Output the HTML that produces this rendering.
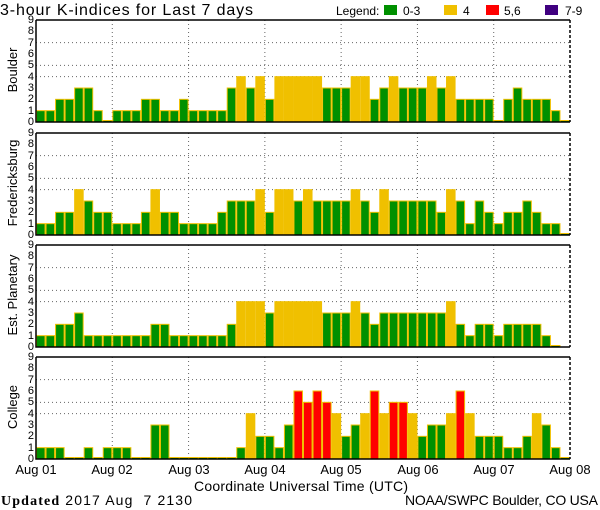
<!DOCTYPE html>
<html><head><meta charset="utf-8"><style>
body{margin:0;background:#fff;width:600px;height:510px;overflow:hidden}
svg{display:block;font-family:"Liberation Sans",sans-serif}
.yl{font-size:11px;text-anchor:end}
</style></head><body>
<svg id="s" width="600" height="510" xmlns="http://www.w3.org/2000/svg">
<text x="0" y="15" font-size="16" textLength="253" lengthAdjust="spacing">3-hour K-indices for Last 7 days</text>
<text x="336" y="15" font-size="12">Legend:</text>
<rect x="384" y="5" width="13" height="10" fill="#009000"/><text x="403" y="15" font-size="12">0-3</text>
<rect x="444" y="5" width="13" height="10" fill="#f0c000"/><text x="463" y="15" font-size="12">4</text>
<rect x="486" y="5" width="13" height="10" fill="#ff0000"/><text x="504" y="15" font-size="12">5,6</text>
<rect x="545" y="5" width="13" height="10" fill="#400080"/><text x="565" y="15" font-size="12">7-9</text>
<g font-size="13">
<text transform="translate(17,70) rotate(-90)" text-anchor="middle">Boulder</text>
<text transform="translate(17,183) rotate(-90)" text-anchor="middle">Fredericksburg</text>
<text transform="translate(17,295) rotate(-90)" text-anchor="middle">Est. Planetary</text>
<text transform="translate(17,407) rotate(-90)" text-anchor="middle">College</text>
</g>
<g class="yl">
<text x="34" y="125">0</text><text x="34" y="114">1</text><text x="34" y="102">2</text><text x="34" y="91">3</text><text x="34" y="80">4</text><text x="34" y="68">5</text><text x="34" y="57">6</text><text x="34" y="46">7</text><text x="34" y="34">8</text><text x="34" y="23">9</text>
</g>
<g class="yl" transform="translate(0,113)">
<text x="34" y="125">0</text><text x="34" y="114">1</text><text x="34" y="102">2</text><text x="34" y="91">3</text><text x="34" y="80">4</text><text x="34" y="68">5</text><text x="34" y="57">6</text><text x="34" y="46">7</text><text x="34" y="34">8</text><text x="34" y="23">9</text>
</g>
<g class="yl" transform="translate(0,225)">
<text x="34" y="125">0</text><text x="34" y="114">1</text><text x="34" y="102">2</text><text x="34" y="91">3</text><text x="34" y="80">4</text><text x="34" y="68">5</text><text x="34" y="57">6</text><text x="34" y="46">7</text><text x="34" y="34">8</text><text x="34" y="23">9</text>
</g>
<g class="yl" transform="translate(0,337)">
<text x="34" y="125">0</text><text x="34" y="114">1</text><text x="34" y="102">2</text><text x="34" y="91">3</text><text x="34" y="80">4</text><text x="34" y="68">5</text><text x="34" y="57">6</text><text x="34" y="46">7</text><text x="34" y="34">8</text><text x="34" y="23">9</text>
</g>
<g font-size="13" text-anchor="middle">
<text x="36" y="474">Aug 01</text><text x="112" y="474">Aug 02</text><text x="189" y="474">Aug 03</text><text x="265" y="474">Aug 04</text><text x="341" y="474">Aug 05</text><text x="418" y="474">Aug 06</text><text x="494" y="474">Aug 07</text><text x="570" y="474">Aug 08</text>
<text x="301" y="491" font-size="14" textLength="214" lengthAdjust="spacing">Coordinate Universal Time (UTC)</text>
</g>
<text x="1" y="505" font-size="14" xml:space="preserve" textLength="191" lengthAdjust="spacing"><tspan font-family="Liberation Serif" font-weight="bold">Updated</tspan> 2017 Aug  7 2130</text>
<text x="598" y="505" font-size="14" text-anchor="end" textLength="193" lengthAdjust="spacing">NOAA/SWPC Boulder, CO USA</text>
<g id="plots"></g>
</svg>
<script>
var D=[
[1,1,2,2,3,3,1,0,1,1,1,2,2,1,1,2,1,1,1,1,3,4,3,4,2,4,4,4,4,4,3,3,3,4,4,2,3,4,3,3,3,4,3,4,2,2,2,2,0,2,3,2,2,2,1,0],
[1,1,2,2,4,3,2,2,1,1,1,2,4,2,2,1,1,1,1,2,3,3,3,4,2,4,4,3,4,3,3,3,3,4,3,2,4,3,3,3,3,3,2,4,3,1,3,2,1,2,2,3,2,1,1,0],
[1,1,2,2,3,1,1,1,1,1,1,1,2,2,1,1,1,1,1,1,2,4,4,4,3,4,4,4,4,4,3,3,3,4,3,2,3,3,3,3,3,3,3,4,2,1,2,2,1,2,2,2,2,1,0,-1],
[1,1,1,0,0,1,0,1,1,1,0,0,3,3,0,0,0,0,0,0,0,1,4,2,2,1,3,6,5,6,5,4,2,3,4,6,4,5,5,4,2,3,3,4,6,4,2,2,2,1,1,2,4,3,1,0]];
var tops=[20,133,245,357],L=36,R=570,W=(R-L)/56,H=102,u=H/9,g=document.getElementById('plots'),h='';
function col(v){return v<=3?'#009000':v==4?'#f0c000':v<=6?'#ff0000':'#400080';}
for(var p=0;p<4;p++){var t=tops[p],b=t+H;
 [4,5,7].forEach(function(k){var y=b-k*u;h+='<line x1="'+L+'" x2="'+R+'" y1="'+y+'" y2="'+y+'" stroke="#666" stroke-dasharray="1,3"/>';});
 for(var d=1;d<7;d++){var x=L+d*8*W;h+='<line x1="'+x+'" x2="'+x+'" y1="'+t+'" y2="'+b+'" stroke="#666" stroke-dasharray="1,3"/>';}
 for(var i=0;i<56;i++){var v=D[p][i];if(v<0)continue;var x=L+i*W,hh=Math.max(v*u,1.5);
  h+='<rect x="'+(x+0.5)+'" y="'+(b-hh)+'" width="'+(W-1)+'" height="'+hh+'" fill="'+col(v)+'" stroke="#f0c000" stroke-width="1"/>';}
 h+='<path d="M'+L+' '+t+'H'+R+'M'+L+' '+t+'V'+b+'H'+R+'" stroke="#000" stroke-width="1.5" fill="none"/>';
 h+='<line x1="'+R+'" x2="'+R+'" y1="'+t+'" y2="'+b+'" stroke="#000" stroke-width="1.5" stroke-dasharray="3,2"/>';
}
g.innerHTML=h;
</script>
</body></html>
